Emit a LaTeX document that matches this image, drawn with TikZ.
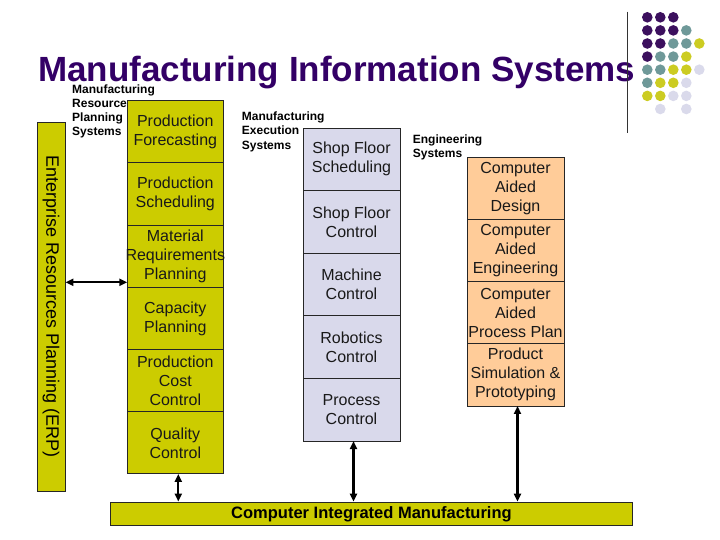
\documentclass[tikz,border=0pt]{standalone}
\usepackage{fontspec}
\setmainfont{Liberation Sans}
\usetikzlibrary{arrows.meta, positioning}
\definecolor{titlepurple}{RGB}{51, 0, 102}
\definecolor{cimolive}{RGB}{204, 204, 0}
\definecolor{meslilac}{RGB}{217, 217, 235}
\definecolor{engpeach}{RGB}{255, 204, 153}
\definecolor{dotpurple}{RGB}{60, 16, 94}
\definecolor{dotteal}{RGB}{111, 153, 153}
\definecolor{dotyellow}{RGB}{204, 204, 34}
\definecolor{dotlilac}{RGB}{218, 218, 235}

\begin{document}
\begin{tikzpicture}[x=1pt, y=-1pt,
  cell/.style={draw=black!85, line width=0.9pt, outer sep=0pt, inner sep=0pt, align=center, text=black!90, font=\fontsize{16}{19}\selectfont},
  mrpbox/.style={cell, fill=cimolive, minimum width=96pt, minimum height=62.2pt},
  mesbox/.style={cell, fill=meslilac, minimum width=97pt, minimum height=62.6pt},
  engbox/.style={cell, fill=engpeach, minimum width=97pt, minimum height=62.25pt},
  grouplabel/.style={anchor=base west, inner sep=0pt, align=left, font=\fontsize{12}{14}\selectfont\bfseries},
  link/.style={{Triangle[length=8pt, width=7pt]}-{Triangle[length=8pt, width=7pt]}, line width=2.2pt}
]
  \useasboundingbox (0,0) rectangle (720,540);

  % title and corner decoration
  \node[anchor=base west, inner sep=0pt, text=titlepurple, font=\fontsize{35}{40}\selectfont\bfseries] (title) at (38,81.5) {Manufacturing Information Systems};
  \draw[line width=0.9pt, black!80] (627.7,11.7) -- (627.7,132.7);
  \foreach \col/\row/\dotcol in {1/1/dotpurple, 2/1/dotpurple, 3/1/dotpurple,
      1/2/dotpurple, 2/2/dotpurple, 3/2/dotpurple, 4/2/dotteal,
      1/3/dotpurple, 2/3/dotpurple, 3/3/dotteal, 4/3/dotteal, 5/3/dotyellow,
      1/4/dotpurple, 2/4/dotteal, 3/4/dotteal, 4/4/dotyellow,
      1/5/dotteal, 2/5/dotteal, 3/5/dotyellow, 4/5/dotyellow, 5/5/dotlilac,
      1/6/dotteal, 2/6/dotyellow, 3/6/dotyellow, 4/6/dotlilac,
      1/7/dotyellow, 2/7/dotyellow, 3/7/dotlilac, 4/7/dotlilac,
      2/8/dotlilac, 4/8/dotlilac}
    \fill[\dotcol] ({647.3+13*(\col-1)}, {17.3+13.1*(\row-1)}) circle (5.3pt);

  % ERP bar
  \node[draw=black!85, line width=0.9pt, fill=cimolive, minimum width=28pt, minimum height=369pt, inner sep=0pt] (erp) at (51,306.5) {};
  \node[rotate=-90, font=\fontsize{18}{20}\selectfont] (erptext) at (erp.center) {Enterprise Resources Planning (ERP)};

  % MRP column (labels sit on their last baseline)
  \node[grouplabel] (mrplabel) at (72,135.3) {Manufacturing\\Resource\\Planning\\Systems};
  \node[mrpbox] (mrp1) at (175.3,131.8) {Production\\Forecasting};
  \node[mrpbox, below=0pt of mrp1] (mrp2) {Production\\Scheduling};
  \node[mrpbox, below=0pt of mrp2] (mrp3) {Material\\\makebox[0pt]{Requirements}\\Planning};
  \node[mrpbox, below=0pt of mrp3] (mrp4) {Capacity\\Planning};
  \node[mrpbox, below=0pt of mrp4] (mrp5) {Production\\Cost\\Control};
  \node[mrpbox, below=0pt of mrp5] (mrp6) {Quality\\Control};

  % MES column
  \node[grouplabel, font=\fontsize{12}{14.3}\selectfont\bfseries] (meslabel) at (241.7,149.3) {Manufacturing\\Execution\\Systems};
  \node[mesbox] (mes1) at (351.5,159.3) {Shop Floor\\Scheduling};
  \node[mesbox, below=0pt of mes1] (mes2) {Shop Floor\\Control};
  \node[mesbox, below=0pt of mes2] (mes3) {Machine\\Control};
  \node[mesbox, below=0pt of mes3] (mes4) {Robotics\\Control};
  \node[mesbox, below=0pt of mes4] (mes5) {Process\\Control};

  % engineering column
  \node[grouplabel] (englabel) at (412.7,157.3) {Engineering\\Systems};
  \node[engbox] (eng1) at (515.5,188.1) {Computer\\Aided\\Design};
  \node[engbox, below=0pt of eng1] (eng2) {Computer\\Aided\\Engineering};
  \node[engbox, below=0pt of eng2] (eng3) {Computer\\Aided\\Process Plan};
  \node[engbox, below=0pt of eng3] (eng4) {Product\\Simulation \&\\Prototyping};

  % CIM bar
  \node[draw=black!85, line width=0.9pt, fill=cimolive, minimum width=522pt, minimum height=23.5pt, inner sep=0pt, font=\fontsize{16.5}{18}\selectfont\bfseries] (cim) at (371.5,513.8) {Computer Integrated Manufacturing};

  % links
  \draw[link] ([yshift=5pt]erp.east |- mrp3.south) -- ([yshift=5pt]mrp3.south west);
  \draw[link] ([xshift=3pt]mrp6.south) -- ([xshift=3pt]mrp6.south |- cim.north);
  \draw[link] ([xshift=2pt]mes5.south) -- ([xshift=2pt]mes5.south |- cim.north);
  \draw[link] ([xshift=2pt]eng4.south) -- ([xshift=2pt]eng4.south |- cim.north);
\end{tikzpicture}
\end{document}
